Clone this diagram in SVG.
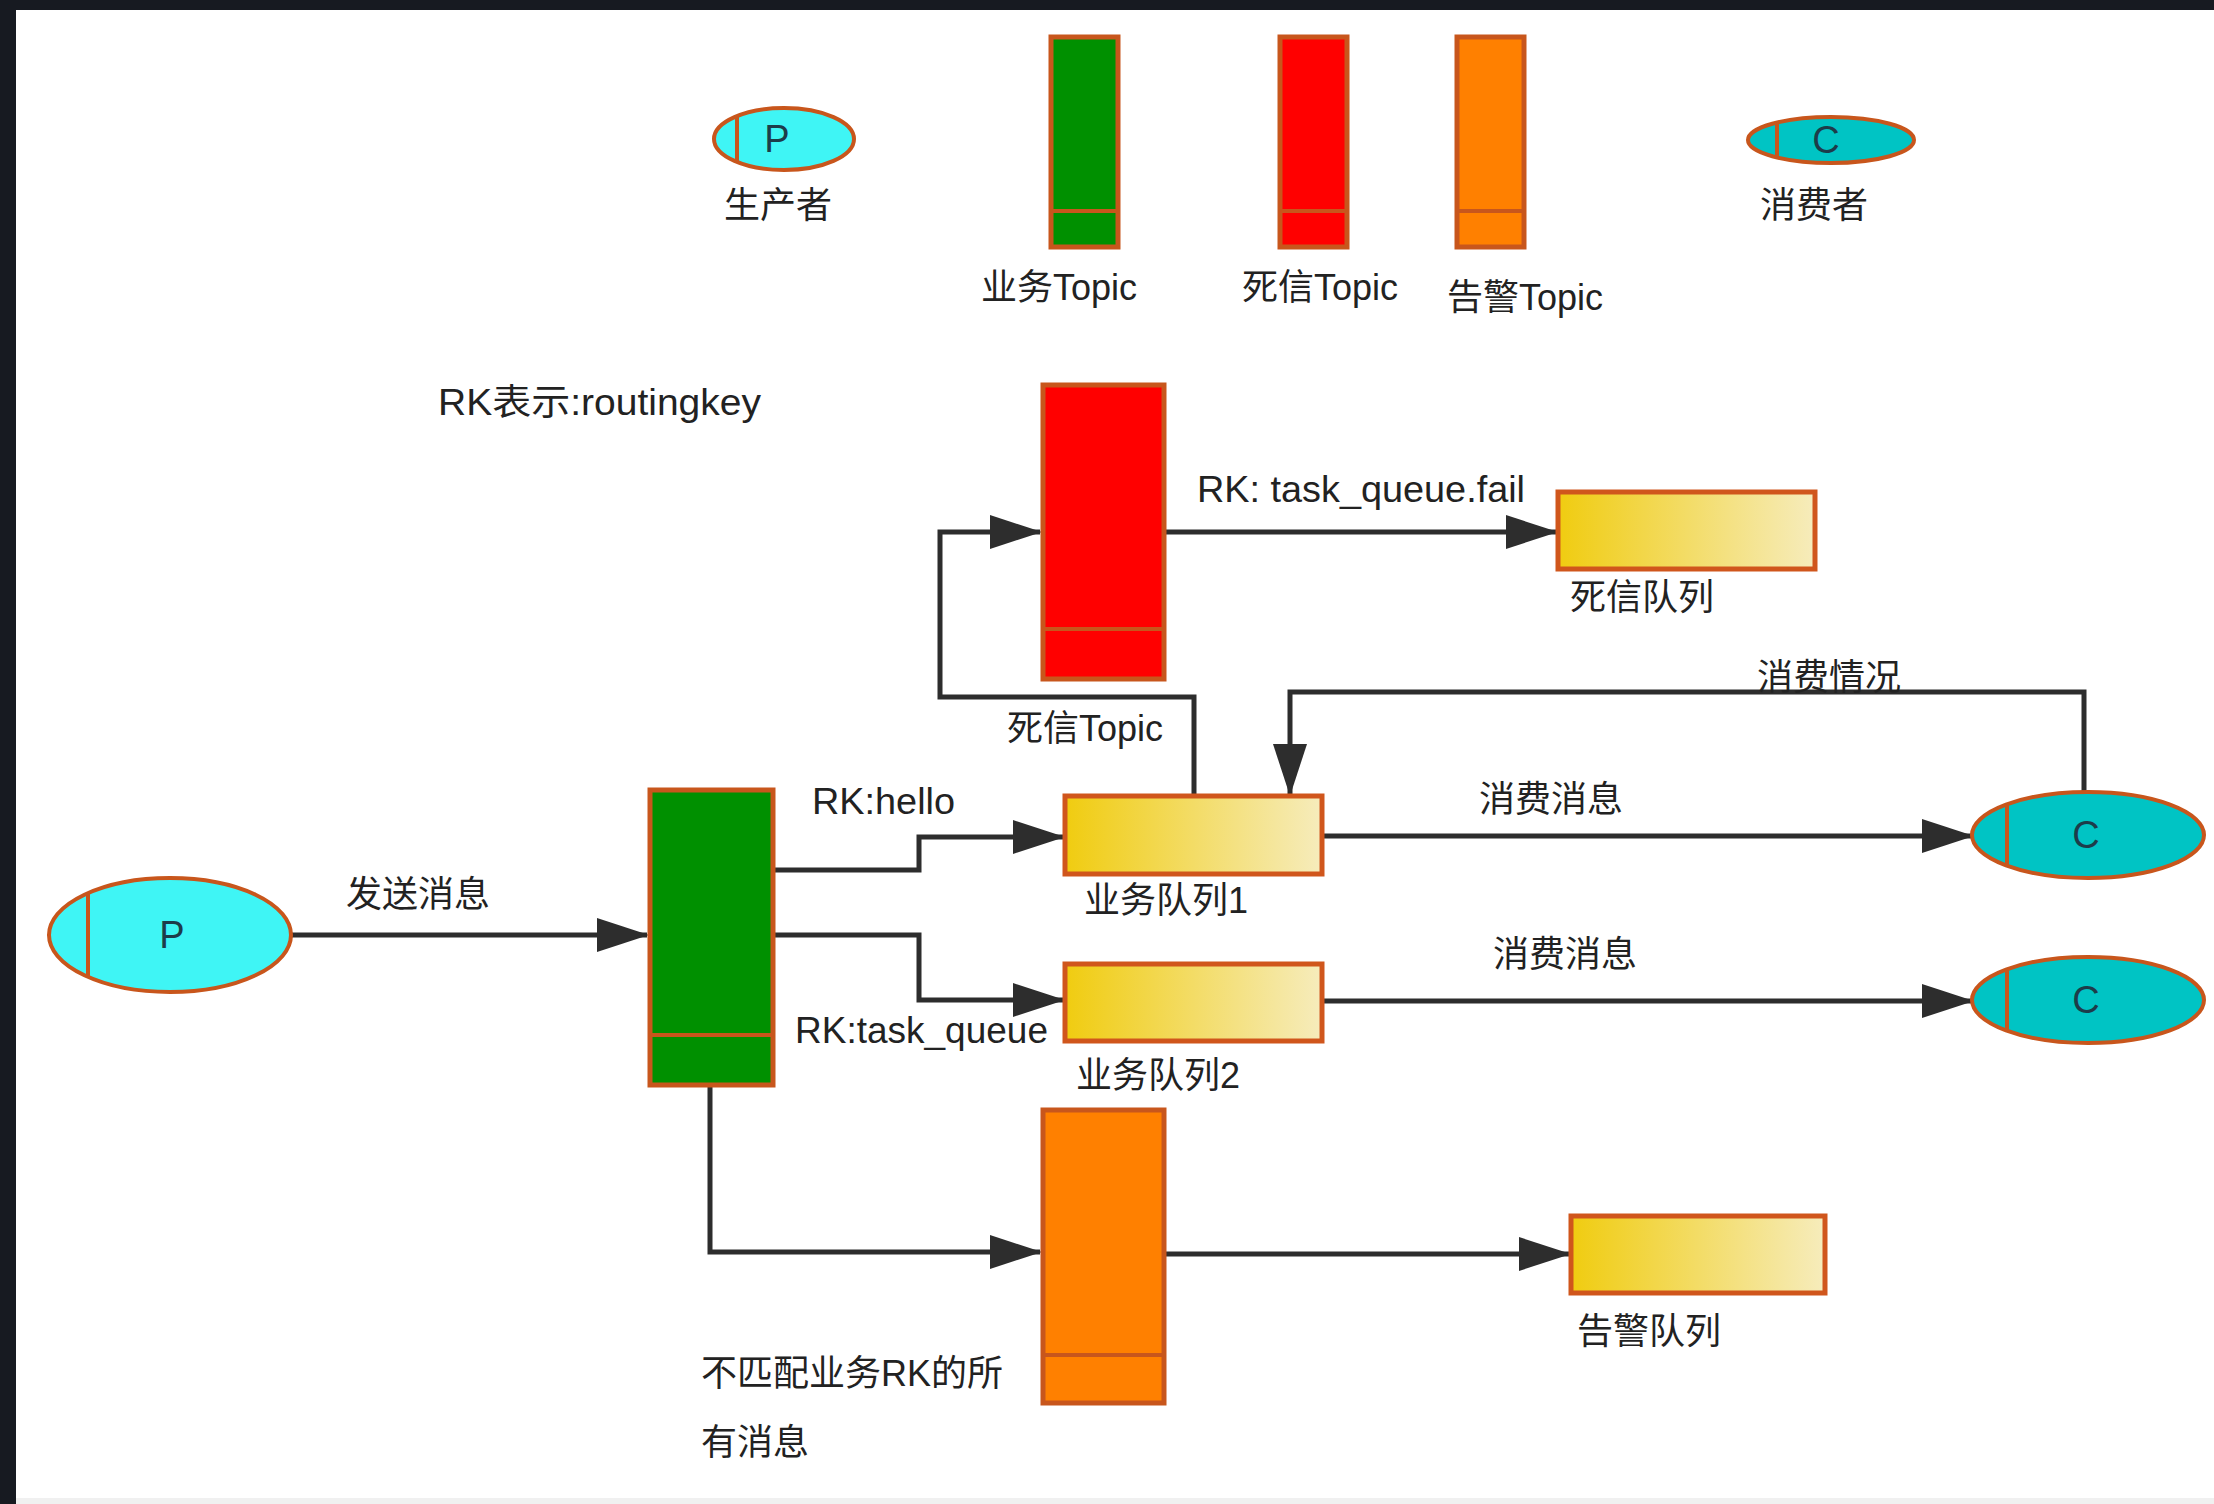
<svg xmlns="http://www.w3.org/2000/svg" width="2214" height="1504" viewBox="0 0 2214 1504">
<defs>
<style>
.lbl{font-family:"Liberation Sans","Noto Sans CJK SC",sans-serif;font-size:36px;fill:#222}
.mid{text-anchor:middle}
.bar{stroke:#c8561c;stroke-width:5}
.q{fill:url(#qg);stroke:#d0561c;stroke-width:5}
.ell{stroke:#c8561c;stroke-width:4}
.sep{stroke:#c8561c;stroke-width:4}
.conn{fill:none;stroke:#2d2d2d;stroke-width:5}
.pc{font-family:"Liberation Sans",sans-serif;font-size:38px;fill:#1d3c4a;text-anchor:middle}
</style>
<linearGradient id="qg" x1="0" y1="0" x2="1" y2="0">
<stop offset="0" stop-color="#f0cc10"/>
<stop offset="1" stop-color="#f6ecbc"/>
</linearGradient>
<marker id="ah" viewBox="0 0 52 34" refX="50" refY="17" markerWidth="52" markerHeight="34" markerUnits="userSpaceOnUse" orient="auto">
<path d="M0,0 L52,17 L0,34 Z" fill="#2d2d2d"/>
</marker>
</defs>
<rect x="0" y="0" width="2214" height="1504" fill="#171a21"/>
<rect x="16" y="10" width="2198" height="1494" fill="#ffffff"/>
<rect x="16" y="1498" width="2198" height="6" fill="#f0f0f0"/>

<g id="legend-producer">
<ellipse class="ell" cx="784" cy="139" rx="70" ry="31" fill="#3ff5f5"/>
<line class="sep" x1="737" y1="116" x2="737" y2="162"/>
<text class="pc" x="777" y="152">P</text>
<text class="lbl mid" x="778" y="218">生产者</text>
</g>
<g id="legend-biz-topic">
<rect class="bar" x="1051" y="37" width="67" height="210" fill="#009000"/>
<line class="sep" x1="1051" y1="211" x2="1118" y2="211"/>
<text class="lbl mid" x="1059" y="300">业务Topic</text>
</g>
<g id="legend-dead-topic">
<rect class="bar" x="1280" y="37" width="67" height="210" fill="#ff0000"/>
<line class="sep" x1="1280" y1="211" x2="1347" y2="211"/>
<text class="lbl mid" x="1320" y="300">死信Topic</text>
</g>
<g id="legend-alarm-topic">
<rect class="bar" x="1457" y="37" width="67" height="210" fill="#ff8000"/>
<line class="sep" x1="1457" y1="211" x2="1524" y2="211"/>
<text class="lbl mid" x="1525" y="310">告警Topic</text>
</g>
<g id="legend-consumer">
<ellipse class="ell" cx="1831" cy="140" rx="83" ry="23" fill="#00c4c4"/>
<line class="sep" x1="1777" y1="122" x2="1777" y2="158"/>
<text class="pc" x="1826" y="153">C</text>
<text class="lbl mid" x="1814" y="218">消费者</text>
</g>
<g id="note">
<text class="lbl" x="438" y="415" textLength="323" lengthAdjust="spacingAndGlyphs">RK表示:routingkey</text>
</g>

<g id="connectors">
<path class="conn" d="M291,935 H647" marker-end="url(#ah)"/>
<path class="conn" d="M775,870 H919 V837 H1063" marker-end="url(#ah)"/>
<path class="conn" d="M775,935 H919 V1000 H1063" marker-end="url(#ah)"/>
<path class="conn" d="M710,1087 V1252 H1040" marker-end="url(#ah)"/>
<path class="conn" d="M1194,794 V697 H940 V532 H1040" marker-end="url(#ah)"/>
<path class="conn" d="M1166,532 H1556" marker-end="url(#ah)"/>
<path class="conn" d="M1324,836 H1972" marker-end="url(#ah)"/>
<path class="conn" d="M2084,792 V692 H1290 V794" marker-end="url(#ah)"/>
<path class="conn" d="M1324,1001 H1972" marker-end="url(#ah)"/>
<path class="conn" d="M1166,1254 H1569" marker-end="url(#ah)"/>
<text class="lbl mid" x="418" y="907">发送消息</text>
<text class="lbl" x="812" y="814" textLength="143" lengthAdjust="spacingAndGlyphs">RK:hello</text>
<text class="lbl" x="795" y="1043" textLength="253" lengthAdjust="spacingAndGlyphs">RK:task_queue</text>
<text class="lbl" x="1197" y="502" textLength="328" lengthAdjust="spacingAndGlyphs">RK: task_queue.fail</text>
<text class="lbl mid" x="1829" y="690">消费情况</text>
<text class="lbl mid" x="1551" y="812">消费消息</text>
<text class="lbl mid" x="1565" y="967">消费消息</text>
<text class="lbl" x="701" y="1386">不匹配业务RK的所</text>
<text class="lbl" x="701" y="1455">有消息</text>
</g>

<g id="producer">
<ellipse class="ell" cx="170" cy="935" rx="121" ry="57" fill="#3ff5f5"/>
<line class="sep" x1="88" y1="893" x2="88" y2="977"/>
<text class="pc" x="172" y="948">P</text>
</g>
<g id="biz-topic">
<rect class="bar" x="650" y="790" width="123" height="295" fill="#009000"/>
<line class="sep" x1="650" y1="1035" x2="773" y2="1035"/>
</g>
<g id="dead-topic">
<rect class="bar" x="1043" y="385" width="121" height="294" fill="#ff0000"/>
<line class="sep" x1="1043" y1="629" x2="1164" y2="629"/>
<text class="lbl mid" x="1085" y="741">死信Topic</text>
</g>
<g id="alarm-topic">
<rect class="bar" x="1043" y="1110" width="121" height="293" fill="#ff8000"/>
<line class="sep" x1="1043" y1="1355" x2="1164" y2="1355"/>
</g>
<g id="dead-queue">
<rect class="q" x="1558" y="492" width="257" height="77"/>
<text class="lbl mid" x="1642" y="610">死信队列</text>
</g>
<g id="biz-queue-1">
<rect class="q" x="1065" y="796" width="257" height="78"/>
<text class="lbl mid" x="1166" y="913">业务队列1</text>
</g>
<g id="biz-queue-2">
<rect class="q" x="1065" y="964" width="257" height="77"/>
<text class="lbl mid" x="1158" y="1088">业务队列2</text>
</g>
<g id="alarm-queue">
<rect class="q" x="1571" y="1216" width="254" height="77"/>
<text class="lbl mid" x="1649" y="1344">告警队列</text>
</g>
<g id="consumer-1">
<ellipse class="ell" cx="2088" cy="835" rx="116" ry="43" fill="#00c4c4"/>
<line class="sep" x1="2007" y1="804" x2="2007" y2="866"/>
<text class="pc" x="2086" y="848">C</text>
</g>
<g id="consumer-2">
<ellipse class="ell" cx="2088" cy="1000" rx="116" ry="43" fill="#00c4c4"/>
<line class="sep" x1="2007" y1="969" x2="2007" y2="1031"/>
<text class="pc" x="2086" y="1013">C</text>
</g>
</svg>
